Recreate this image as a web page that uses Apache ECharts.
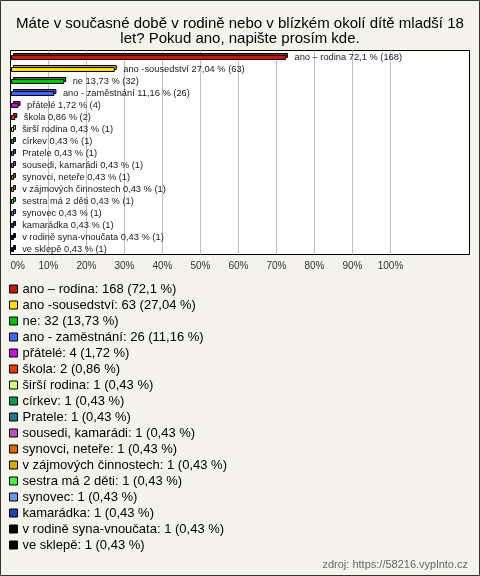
<!DOCTYPE html>
<html>
<head>
<meta charset="utf-8">
<script src="https://cdn.jsdelivr.net/npm/echarts@6/dist/echarts.min.js"></script>
<style>
html,body{margin:0;padding:0;background:#f4f3ec;}
#chart{width:480px;height:576px;}
</style>
</head>
<body>
<div id="chart"></div>
<script>
const titleText = 'Máte v současné době v rodině nebo v blízkém okolí dítě mladší 18\nlet? Pokud ano, napište prosím kde.';
const sourceText = 'zdroj: https://58216.vyplnto.cz';
const categories = ['ano – rodina','ano -sousedství','ne','ano - zaměstnání','přátelé','škola','širší rodina','církev','Pratele','sousedi, kamarádi','synovci, neteře','v zájmových činnostech','sestra má 2 děti','synovec','kamarádka','v rodině syna-vnoučata','ve sklepě'];
const counts = [168,63,32,26,4,2,1,1,1,1,1,1,1,1,1,1,1];
const percents = [72.1,27.04,13.73,11.16,1.72,0.86,0.43,0.43,0.43,0.43,0.43,0.43,0.43,0.43,0.43,0.43,0.43];
const colors = ['#c41a00','#ffe400','#00c400','#4466ff','#cc11dd','#e43c00','#ccff77','#119955','#227788','#bb55bb','#e06600','#ddaa00','#44ee44','#6699ee','#2244aa','#000000','#000000'];
const gridTicks = [10,20,30,40,50,60,70,80,90,100];

const fmt = v => String(v).replace('.', ',');
function darken(hex, f){
  const n = parseInt(hex.slice(1),16);
  const r = Math.round(((n>>16)&255)*f), g = Math.round(((n>>8)&255)*f), b = Math.round((n&255)*f);
  return 'rgb('+r+','+g+','+b+')';
}

function renderItem(params, api){
  const v = api.value(0), i = api.value(1);
  const p0 = api.coord([0, i]);
  const p1 = api.coord([v, i]);
  const cy = Math.round(p0[1]) + 0.5;
  const x0 = Math.round(p0[0]) + 0.5;
  const w = Math.max(p1[0] - p0[0], 2);
  const d = 2, h = 4;
  const c = colors[i];
  return {
    type: 'group',
    children: [
      {type:'rect', shape:{x:x0+d, y:cy-2-d, width:w, height:h}, style:{fill:darken(c,0.8), stroke:'#000', lineWidth:1}},
      {type:'rect', shape:{x:x0, y:cy-2, width:w, height:h}, style:{fill:c, stroke:'#000', lineWidth:1}},
      {type:'text', x:p1[0]+10, y:cy, style:{text: categories[i] + ' ' + fmt(percents[i]) + ' % (' + counts[i] + ')', fill:'#1a1a1a', fontSize:9.3, fontFamily:'Liberation Sans', verticalAlign:'middle', align:'left'}}
    ]
  };
}

const chart = echarts.init(document.getElementById('chart'));
const legendSeries = categories.map((c, i) => ({
  name: c, type: 'bar', data: [], itemStyle: {color: colors[i]}
}));

chart.setOption({
  animation: false,
  backgroundColor: '#f4f3ec',
  textStyle: {fontFamily: 'Liberation Sans'},
  title: {
    text: titleText, left: 'center', top: 11,
    textStyle: {fontSize: 15, fontWeight: 'normal', color: '#000', lineHeight: 15, fontFamily: 'Liberation Sans'}
  },
  grid: {left: 10.5, top: 50.5, width: 459, height: 204, show: true, backgroundColor: '#fff', borderColor: '#000', borderWidth: 1},
  xAxis: {
    type: 'value', min: 0, max: 459/3.8, interval: 10,
    splitLine: {show: false}, axisLine: {show: false}, axisTick: {show: false},
    axisLabel: {formatter: v => v <= 100 ? v + '%' : '', color: '#333', fontSize: 10, margin: 7, alignMinLabel: 'left', showMaxLabel: false}
  },
  yAxis: {type: 'category', data: categories, inverse: true, show: false},
  legend: {
    orient: 'vertical', left: 9, top: 281, padding: 0, itemGap: 0,
    itemWidth: 8, itemHeight: 8, icon: 'rect', selectedMode: false,
    itemStyle: {borderColor: '#000', borderWidth: 1},
    textStyle: {fontSize: 13, lineHeight: 16, color: '#000', fontFamily: 'Liberation Sans'},
    data: categories,
    formatter: name => {
      const i = categories.indexOf(name);
      return name + ': ' + counts[i] + ' (' + fmt(percents[i]) + ' %)';
    }
  },
  graphic: [
    {type: 'rect', silent: true, z: 100, shape: {x: 0.5, y: 0.5, width: 479, height: 575}, style: {fill: 'none', stroke: '#333', lineWidth: 1}},
    {type: 'text', silent: true, x: 468, y: 565, style: {text: sourceText, fill: '#666', fontSize: 11, fontFamily: 'Liberation Sans', align: 'right', verticalAlign: 'middle'}}
  ],
  series: [
    {
      type: 'custom', z: 3,
      renderItem: renderItem,
      encode: {x: 0, y: 1},
      data: categories.map((c, i) => [percents[i], i]),
      markLine: {
        silent: true, symbol: 'none', label: {show: false}, z: 1,
        lineStyle: {color: '#c0c0c0', type: 'solid', width: 1},
        data: gridTicks.map(v => ({xAxis: v}))
      }
    }
  ].concat(legendSeries)
});
</script>
</body>
</html>
